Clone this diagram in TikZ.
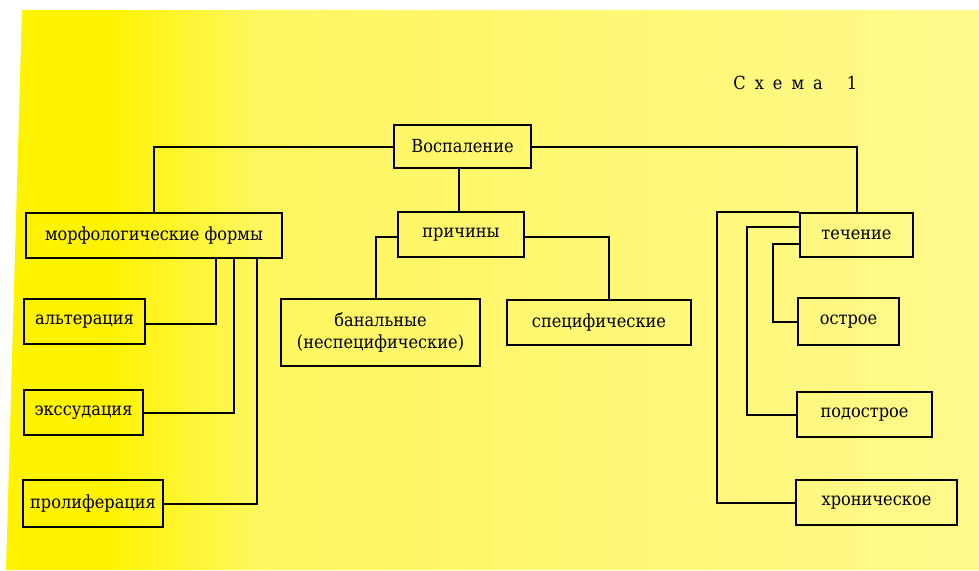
\documentclass[tikz,border=0pt]{standalone}
\usepackage{fontspec}
\setmainfont{DejaVu Serif}[FakeStretch=0.9]
\usetikzlibrary{calc}
\definecolor{pageL}{RGB}{255,243,0}
\definecolor{pageM}{RGB}{255,247,95}
\definecolor{pageR}{RGB}{255,249,140}
\pgfdeclarehorizontalshading{page}{100bp}{color(0bp)=(pageL); color(30bp)=(pageL); color(38bp)=(pageM); color(75bp)=(pageR); color(100bp)=(pageR)}

\begin{document}
\begin{tikzpicture}[x=0.5pt,y=0.5pt,yscale=-1,xscale=1,
	box/.style={draw,line width=1pt,inner sep=0.75pt,align=center,font=\fontsize{9}{11}\selectfont},
	link/.style={line width=1pt}]
	\useasboundingbox (0,0) rectangle (979,570);
	\fill[white] (0,0) rectangle (979,570);
	\shade[shading=page] (22,10) -- (979,10) -- (979,570) -- (6,570) -- cycle;
	\node (title) [anchor=west,inner sep=0pt,font=\fontsize{9}{11}\selectfont] at (733,83) {С\hspace{4.5pt}х\hspace{4.5pt}е\hspace{4.5pt}м\hspace{4.5pt}а\hspace{12pt}1};
	\node (vosp) [box,minimum width=68.5pt,minimum height=21.5pt] at (462.5,146.5) {Воспаление};
	\node (morph) [box,minimum width=128pt,minimum height=22.5pt] at (154,235.5) {морфологические формы};
	\node (alt) [box,minimum width=60.5pt,minimum height=22.5pt] at (84.5,321.5) {альтерация};
	\node (eks) [box,minimum width=59.5pt,minimum height=22.5pt] at (83.5,412.5) {экссудация};
	\node (prol) [box,minimum width=70pt,minimum height=23.5pt] at (93,503.5) {пролиферация};
	\node (prich) [box,minimum width=63pt,minimum height=22.5pt] at (461,234.5) {причины};
	\node (banal) [box,minimum width=99.5pt,minimum height=33.5pt] at (380.5,332.5) {банальные\\(неспецифические)};
	\node (spec) [box,minimum width=92pt,minimum height=22.5pt] at (599,322.5) {специфические};
	\node (tech) [box,minimum width=56.5pt,minimum height=22pt] at (856.5,235) {течение};
	\node (ostr) [box,minimum width=50.5pt,minimum height=23.5pt] at (848.5,321.5) {острое};
	\node (podostr) [box,minimum width=67.5pt,minimum height=22.5pt] at (864.5,414.5) {подострое};
	\node (hron) [box,minimum width=80.5pt,minimum height=22.5pt] at (876.5,502.5) {хроническое};
	\draw[link] (vosp.west) -| (morph.north);
	\draw[link] (vosp.east) -| (tech.north);
	\draw[link] ([xshift=-2pt]vosp.south) -- ([xshift=-2pt]vosp.south |- prich.north);
	\draw[link] ([yshift=1pt]prich.west) -| ([xshift=-2.5pt]banal.north);
	\draw[link] ([yshift=1pt]prich.east) -| ([xshift=5pt]spec.north);
	\draw[link] ([yshift=1pt]alt.east) -| ($(morph.south east)+(-67,0)$);
	\draw[link] (eks.east) -| ($(morph.south east)+(-49,0)$);
	\draw[link] (prol.east) -| ($(morph.south east)+(-26,0)$);
	\draw[link] (tech.north west) -- ++(-82,0) |- (hron.west);
	\draw[link] ($(tech.north west)+(0,15)$) -- ++(-52,0) |- (podostr.west);
	\draw[link] ($(tech.north west)+(0,32)$) -- ++(-26,0) |- (ostr.west);
\end{tikzpicture}
\end{document}
